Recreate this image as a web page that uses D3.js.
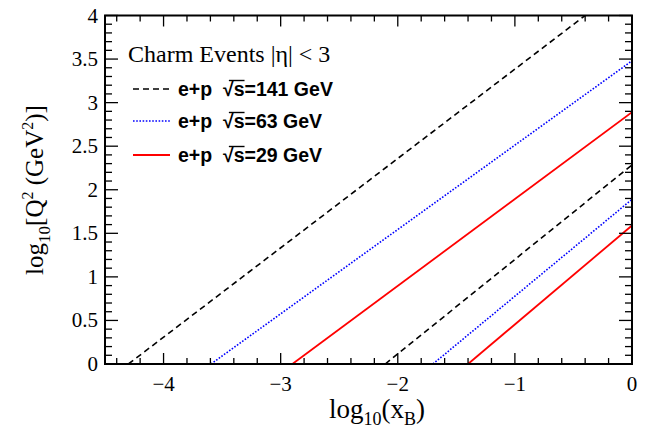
<!DOCTYPE html>
<html><head><meta charset="utf-8">
<script src="https://cdn.jsdelivr.net/npm/d3@7"></script>
<style>body{margin:0;background:#fff}svg{display:block}</style>
</head><body>
<svg id="c" width="646" height="429"></svg>
<script>
// data: each series has an upper and lower kinematic boundary line (log10 xB, log10 Q2)
const seriesPrefix = "e+p  \u221A";
const energies = ["141", "63", "29"];
const colors = ["#000000", "#0000ff", "#ff0000"];
const dashes = ["6,4", "1.6,1.6", null];
const upperLines = [
  [[-4.30, 0], [-0.40, 4.0]],
  [[-3.595, 0], [0, 3.48]],
  [[-2.90, 0], [0, 2.89]]
];
const lowerLines = [
  [[-2.107, 0], [0, 2.285]],
  [[-1.70, 0], [0, 1.89]],
  [[-1.40, 0], [0, 1.59]]
];
const xTicks = [-4, -3, -2, -1, 0];
const yTicks = [0, 0.5, 1, 1.5, 2, 2.5, 3, 3.5, 4];

const svg = d3.select("#c");
const L = 105, R = 632, T = 15.5, B = 364;
const x = d3.scaleLinear().domain([-4.5, 0]).range([L, R]);
const y = d3.scaleLinear().domain([0, 4]).range([B, T]);

const defs = svg.append("defs");
defs.append("clipPath").attr("id", "clip").append("rect")
  .attr("x", L).attr("y", T).attr("width", R - L).attr("height", B - T);

const line = d3.line().x(d => x(d[0])).y(d => y(d[1]));
const g = svg.append("g").attr("clip-path", "url(#clip)");
[upperLines, lowerLines].forEach(set => {
  set.forEach((pts, i) => {
    g.append("path").attr("d", line(pts)).attr("fill", "none")
      .attr("stroke", colors[i]).attr("stroke-width", i === 2 ? 1.8 : 1.6)
      .attr("stroke-dasharray", dashes[i]);
  });
});

// ticks
const xMinor = d3.range(-4.4, 0.001, 0.2).map(v => +v.toFixed(2));
const yMinor = d3.range(0, 4.001, 0.1).map(v => +v.toFixed(2));
const tk = svg.append("g").attr("stroke", "#000").attr("stroke-width", 1.3);
xMinor.forEach(v => {
  const major = Math.abs(v - Math.round(v)) < 1e-6;
  const len = major ? 11 : 6;
  tk.append("line").attr("x1", x(v)).attr("x2", x(v)).attr("y1", B).attr("y2", B - len);
  tk.append("line").attr("x1", x(v)).attr("x2", x(v)).attr("y1", T).attr("y2", T + len);
});
yMinor.forEach(v => {
  const major = Math.abs(v * 2 - Math.round(v * 2)) < 1e-6;
  const len = major ? 13 : 7;
  tk.append("line").attr("y1", y(v)).attr("y2", y(v)).attr("x1", L).attr("x2", L + len);
  tk.append("line").attr("y1", y(v)).attr("y2", y(v)).attr("x1", R).attr("x2", R - len);
});

svg.append("rect").attr("x", L).attr("y", T).attr("width", R - L).attr("height", B - T)
  .attr("fill", "none").attr("stroke", "#000").attr("stroke-width", 2);

const serif = "'Liberation Serif','DejaVu Serif',serif";
const sans = "'Liberation Sans',Arial,sans-serif";

svg.append("g").selectAll("text").data(xTicks).join("text")
  .attr("x", d => x(d)).attr("y", 391).attr("text-anchor", "middle")
  .attr("font-family", serif).attr("font-size", 21)
  .text(d => d < 0 ? "\u2212" + Math.abs(d) : String(d));
svg.append("g").selectAll("text").data(yTicks).join("text")
  .attr("x", 98).attr("y", d => y(d) + 7).attr("text-anchor", "end")
  .attr("font-family", serif).attr("font-size", 21)
  .text(d => String(d));

// axis titles
const xt = svg.append("text").attr("x", 377).attr("y", 418).attr("text-anchor", "middle")
  .attr("font-family", serif).attr("font-size", 27);
xt.append("tspan").text("log");
xt.append("tspan").attr("font-size", 18).attr("dy", 7).text("10");
xt.append("tspan").attr("dy", -7).text("(x");
xt.append("tspan").attr("font-size", 18).attr("dy", 7).text("B");
xt.append("tspan").attr("dy", -7).text(")");

const yt = svg.append("text").attr("transform", "translate(43,190) rotate(-90)")
  .attr("text-anchor", "middle").attr("font-family", serif).attr("font-size", 25);
yt.append("tspan").text("log");
yt.append("tspan").attr("font-size", 17).attr("dy", 7).text("10");
yt.append("tspan").attr("dy", -7).text("[Q");
yt.append("tspan").attr("font-size", 16).attr("dy", -10).text("2");
yt.append("tspan").attr("dy", 10).text(" (GeV");
yt.append("tspan").attr("font-size", 16).attr("dy", -10).text("2");
yt.append("tspan").attr("dy", 10).text(")]");

// legend
svg.append("text").attr("x", 128).attr("y", 62).attr("font-family", serif).attr("font-size", 24)
  .text("Charm Events |\u03b7| < 3");
const legY = [89, 121, 155];
energies.forEach((e, i) => {
  svg.append("line").attr("x1", 133).attr("x2", 170).attr("y1", legY[i]).attr("y2", legY[i])
    .attr("stroke", colors[i]).attr("stroke-width", i === 2 ? 1.8 : 1.6)
    .attr("stroke-dasharray", dashes[i]);
  const t = svg.append("text").attr("x", 178).attr("y", legY[i] + 7)
    .attr("font-family", sans).attr("font-weight", "bold").attr("font-size", 19.5)
    .style("white-space", "pre")
    .text(seriesPrefix + "s=" + e + " GeV");
  // overline of the square-root sign over "s"
  const node = t.node();
  const si = seriesPrefix.length - 1;
  const x0 = node.getStartPositionOfChar(si).x + 0.55 * (node.getEndPositionOfChar(si).x - node.getStartPositionOfChar(si).x);
  const x1 = node.getEndPositionOfChar(si + 1).x;
  svg.append("line").attr("x1", x0).attr("x2", x1)
    .attr("y1", legY[i] - 8.5).attr("y2", legY[i] - 8.5)
    .attr("stroke", "#000").attr("stroke-width", 1.4);
});
</script>
</body></html>
